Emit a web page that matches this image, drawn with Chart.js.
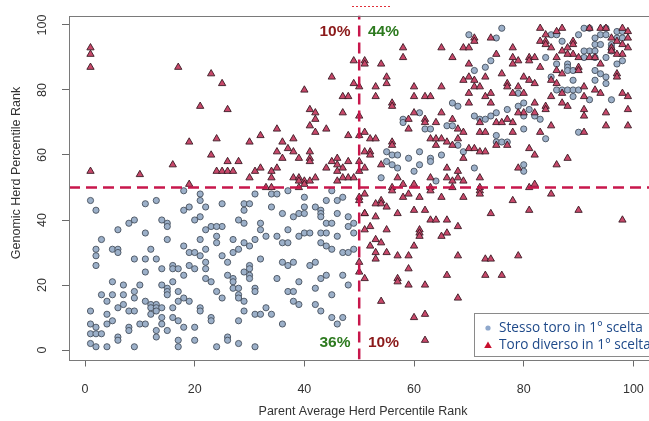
<!DOCTYPE html>
<html lang="it">
<head>
  <meta charset="UTF-8" />
  <title>Genomic vs Parent Average Herd Percentile Rank</title>
  <script src="https://cdn.jsdelivr.net/npm/chart.js"></script>
  <style>
    html, body {
      margin: 0;
      padding: 0;
      background: #fff;
      overflow: hidden;
    }
    #grafico {
      display: block;
    }
  </style>
</head>
<body>
  <canvas id="grafico" width="660" height="421"></canvas>

  <script>
    // [parent average rank, genomic rank]
    const stessoToro = [
      [18,49],[21,48],[31,48],[34,48],[35,48],[37,49],[40,47],[45,49],[46,46],[47,47],[44,46],
      [76,99],[70,97],[75,96],[74,89],[73,87],[71,86],[67,76],[68,75],[61,73],[58,71],[58,70],
      [71,72],[72,71],[73,71],[74,72],[75,73],[77,74],[66,69],[67,69],[62,68],[63,68],[75,66],
      [68,63],[75,64],[76,64],[77,64],[69,61],[55,61],[56,60],[57,60],[55,58],[56,57],[57,56],
      [59,59],[61,61],[63,59],[63,58],[61,57],[60,55],[65,60],[71,56],[54,53],[64,52],
      [91,99],[92,99],[95,99],[85,97],[86,97],[97,98],[98,98],[87,95],[90,97],[94,97],[93,96],
      [95,97],[97,96],[98,96],[93,94],[94,94],[96,94],[96,93],[96,92],[92,92],[91,92],[93,92],
      [91,90],[93,90],[95,90],[84,90],[98,89],[97,88],[88,88],[88,87],[86,88],[88,86],[89,86],
      [93,86],[94,85],[95,84],[85,84],[89,83],[93,83],[95,82],[86,80],[87,80],[88,80],[89,80],
      [90,80],[79,79],[89,78],[92,77],[96,77],[79,75],[80,76],[81,74],[82,72],[83,71],[80,72],
      [80,68],[84,65],[90,67],[80,57],[80,55],
      [25,45],[29,45],[30,45],[29,43],[28,40],[29,39],[34,44],[36,42],[38,41],[39,42],[40,44],
      [40,42],[42,44],[43,43],[43,42],[43,41],[44,39],[45,39],[46,42],[48,41],[49,39],[48,38],
      [25,38],[32,39],[32,37],[33,35],[35,35],[36,33],[37,33],[37,37],[39,35],[40,36],[41,36],
      [43,36],[44,36],[46,35],[43,33],[44,32],[45,31],[47,30],[48,30],[49,31],[49,36],
      [25,29],[27,34],[27,30],[28,31],[29,33],[30,32],[31,34],[32,28],[26,27],[36,27],[37,26],
      [38,27],[41,26],[42,27],[29,24],[30,26],[30,25],[30,23],[30,22],[26,23],[27,22],[27,21],
      [27,19],[28,19],[28,17],[28,16],[25,16],[31,19],[31,18],[35,22],[39,21],[43,22],[44,23],
      [42,19],[47,23],[48,20],[45,17],[37,18],[38,18],[38,15],[39,14],[29,15],[29,12],[31,11],
      [32,11],[33,13],[34,11],[28,9],[42,14],[43,12],[45,10],[46,8],[47,10],[36,8],
      [26,4],[26,3],[28,2],[31,1],
      [1,46],[2,43],[11,45],[13,46],[21,46],[18,43],[19,44],[22,44],[20,40],[21,41],
      [8,39],[9,40],[14,40],[15,39],[15,38],[6,37],[11,36],[15,34],[3,34],[2,31],[2,29],[2,26],
      [5,31],[6,31],[6,30],[12,31],[9,28],[11,28],[13,28],[11,24],[14,25],[16,26],[16,25],
      [17,25],[18,23],[18,32],[19,30],[20,30],[21,29],[19,26],[20,25],[22,31],[22,27],[22,25],
      [22,22],[23,21],[23,38],[24,38],[24,35],[24,33],[22,37],[21,34],
      [5,21],[7,20],[10,20],[3,17],[5,17],[7,17],[9,18],[9,16],[14,20],[15,19],[15,18],[15,17],
      [17,18],[16,21],[19,15],[18,16],[17,15],[24,18],
      [1,12],[4,15],[4,11],[6,13],[7,14],[8,12],[9,12],[11,15],[12,14],[12,13],[12,11],[13,14],
      [13,13],[14,13],[14,10],[13,12],[16,13],[16,10],[17,9],[21,13],[21,12],[23,10],[23,9],
      [1,8],[1,5],[2,7],[2,5],[3,5],[4,8],[5,9],[6,4],[6,3],[8,7],[8,6],[10,8],[11,8],[13,6],
      [13,4],[14,8],[15,6],[18,7],[20,7],
      [1,2],[2,1],[4,1],[9,1],[17,3],[17,1],[20,3],[24,1]
    ];

    const toroDiverso = [
      [1,93],[1,91],[1,87],[17,87],[23,85],[21,75],[19,64],[24,65],[23,60],[16,57],[1,55],
      [10,54],[24,55],[19,51],
      [49,89],[51,89],[45,84],[49,82],[50,81],[25,82],[40,80],[47,78],[48,78],[26,74],[41,74],
      [42,73],[47,73],[50,72],[42,71],[41,69],[42,67],[44,68],[35,68],[32,66],[30,64],[36,64],
      [38,65],[48,66],[50,66],[37,62],[35,61],[38,61],[36,59],[39,59],[41,61],[41,59],[41,58],
      [26,58],[28,58],[32,56],[46,59],[45,58],[48,58],[50,58],[51,56],[50,55],[46,57],[47,56],
      [44,56],[46,55],[25,55],[26,55],[27,55],[31,55],[34,55],[35,56],[30,53],[34,53],[38,53],
      [39,53],[40,52],[42,53],[39,52],[48,53],[49,53],[47,53],[46,52],[33,50],[34,50],[39,50],
      [40,51],[41,52],
      [71,96],[71,95],[74,96],[69,93],[70,93],[65,93],[58,93],[58,90],[78,93],[78,90],[75,91],
      [67,90],[54,88],[51,88],[78,88],[70,88],[76,85],[73,84],[70,84],[69,83],[71,83],[55,84],
      [55,82],[77,82],[77,81],[53,81],[60,81],[65,81],[71,81],[72,81],[78,79],[70,79],[70,76],
      [53,78],[56,76],[56,75],[60,78],[62,78],[63,78],[73,78],[74,79],[74,76],[60,73],[59,71],
      [59,68],[65,73],[67,71],[64,70],[62,71],[62,70],[68,68],[69,67],[72,70],[72,67],[75,70],
      [76,70],[77,71],[78,70],[73,67],[78,67],[63,65],[64,65],[65,65],[64,63],[66,64],[67,63],
      [68,65],[51,67],[52,65],[53,65],[56,64],[56,63],[70,62],[71,62],[75,63],[77,63],[72,61],
      [73,61],[51,61],[52,61],[52,60],[69,59],[54,57],[66,56],[68,55],[68,53],[63,53],[66,53],
      [57,53],[72,53],[67,52],[69,52],[72,50],[56,50],[58,51],[60,51],[63,50],[67,50],
      [83,99],[92,99],[94,99],[95,99],[87,99],[86,98],[98,99],[99,98],[99,96],[84,97],[83,95],
      [84,95],[89,95],[89,94],[96,96],[97,95],[98,94],[85,93],[84,94],[88,93],[87,92],[96,93],
      [96,92],[98,91],[99,93],[89,91],[90,90],[92,90],[93,90],[88,91],[97,91],[86,90],[81,90],
      [81,89],[79,89],[82,90],[94,88],[83,87],[90,87],[90,86],[86,86],[87,85],[97,85],[97,84],
      [80,84],[81,83],[82,82],[85,83],[86,82],[91,81],[87,79],[93,80],[94,79],[79,81],[80,79],
      [91,78],[85,78],[98,79],[99,78],[82,76],[84,75],[87,76],[88,75],[84,74],[82,73],[80,73],
      [79,73],[91,74],[91,72],[95,73],[99,74],[85,69],[95,69],[99,69],[83,67],[91,67],[81,62],
      [82,60],[88,59],[86,57],[79,56],[81,50],[82,51],
      [85,48],[81,43],[90,43],[98,40],[79,29],
      [56,49],[58,47],[59,48],[61,47],[63,49],[65,47],[69,47],[72,49],[72,48],[78,46],[53,45],
      [54,46],[54,45],[55,44],[57,42],[60,43],[62,43],[74,42],[53,41],[52,38],[55,37],[51,42],
      [63,40],[64,40],[66,40],[68,38],[61,37],[61,36],[61,35],[65,35],[66,36],[53,34],[54,33],
      [52,32],[60,32],[53,30],[53,28],[55,30],[57,29],[59,29],[68,29],[73,28],[74,28],[59,25],
      [57,22],[57,21],[66,23],[73,23],[76,23],[59,20],[62,20],[68,16],[54,15],[60,10],[62,11],
      [62,3],
      [50,47],[50,46],[51,48],[51,42],[51,37],[50,27],[50,24],[51,22]
    ];

    const tickX = [0, 20, 40, 60, 80, 100];
    const tickY = [0, 20, 40, 60, 80, 100];
    const limiti = [-2.92, 102.92];
    const soglia = 50;

    // quadrant shares: [label, x, y, colour, align]
    const quote = [
      ['10%', 48.4, 97.8, '#8b1a1a', 'right'],
      ['44%', 51.6, 97.8, '#2d7a1f', 'left'],
      ['36%', 48.4, 2.2, '#2d7a1f', 'right'],
      ['10%', 51.6, 2.2, '#8b1a1a', 'left']
    ];

    const legenda = ['Stesso toro in 1° scelta', 'Toro diverso in 1° scelta'];
    const titoloX = 'Parent Average Herd Percentile Rank';
    const titoloY = 'Genomic Herd Percentile Rank';

    const COL_CERCHIO = '#9cb0c9';
    const COL_TRIANGOLO = '#c8486a';
    const COL_SOGLIA = '#c8174c';
    const FONT_ASSI = '12.5px "Liberation Sans", Arial, sans-serif';

    const decorazioni = {
      id: 'decorazioni',
      afterDatasetsDraw(chart) {
        const { ctx, chartArea: a, scales } = chart;
        const sx = scales.x, sy = scales.y;
        ctx.save();

        // plot box
        ctx.strokeStyle = '#7a7a7a';
        ctx.lineWidth = 1;
        ctx.strokeRect(Math.round(a.left) + 0.5, Math.round(a.top) + 0.5,
          Math.round(a.right - a.left), Math.round(a.bottom - a.top));

        // vertical y tick labels
        ctx.fillStyle = '#333';
        ctx.font = FONT_ASSI;
        ctx.textAlign = 'center';
        ctx.textBaseline = 'middle';
        tickY.forEach(v => {
          ctx.save();
          ctx.translate(43, sy.getPixelForValue(v));
          ctx.rotate(-Math.PI / 2);
          ctx.fillText(String(v), 0, 0);
          ctx.restore();
        });

        // axis titles
        ctx.fillText(titoloX, 363, 412);
        ctx.save();
        ctx.translate(17, 173);
        ctx.rotate(-Math.PI / 2);
        ctx.fillText(titoloY, 0, 0);
        ctx.restore();

        // quadrant percentages
        ctx.font = 'bold 15.5px "Liberation Sans", Arial, sans-serif';
        quote.forEach(([t, x, y, c, al]) => {
          ctx.fillStyle = c;
          ctx.textAlign = al;
          ctx.fillText(t, sx.getPixelForValue(x), sy.getPixelForValue(y));
        });

        // legend
        const lx = 474.5, ly = 313.5;
        ctx.fillStyle = '#fff';
        ctx.fillRect(lx, ly, 200, 43);
        ctx.strokeStyle = '#8a8a8a';
        ctx.strokeRect(lx, ly, 200, 43);

        ctx.fillStyle = '#8fa8cc';
        ctx.beginPath();
        ctx.arc(488, 328, 2.6, 0, Math.PI * 2);
        ctx.fill();

        ctx.fillStyle = '#c8102e';
        ctx.beginPath();
        ctx.moveTo(488, 341.5);
        ctx.lineTo(491.8, 348);
        ctx.lineTo(484.2, 348);
        ctx.closePath();
        ctx.fill();

        ctx.fillStyle = '#1f4a8a';
        ctx.font = '13.6px "Open Sans", sans-serif';
        ctx.textAlign = 'left';
        ctx.fillText(legenda[0], 499, 328);
        ctx.fillText(legenda[1], 499, 345.5);

        // small dotted mark above the plot
        ctx.strokeStyle = '#e0303a';
        ctx.setLineDash([2, 2]);
        ctx.beginPath();
        ctx.moveTo(352, 6.5);
        ctx.lineTo(392, 6.5);
        ctx.stroke();

        ctx.restore();
      }
    };

    const punti = arr => arr.map(([x, y]) => ({ x, y }));

    new Chart(document.getElementById('grafico'), {
      type: 'scatter',
      data: {
        datasets: [
          {
            type: 'line',
            data: [{ x: limiti[0], y: soglia }, { x: limiti[1], y: soglia }],
            borderColor: COL_SOGLIA,
            borderWidth: 2.5,
            borderDash: [11, 6],
            pointRadius: 0,
            order: 0
          },
          {
            type: 'line',
            data: [{ x: soglia, y: limiti[0] }, { x: soglia, y: limiti[1] }],
            borderColor: COL_SOGLIA,
            borderWidth: 2.5,
            borderDash: [11, 6],
            pointRadius: 0,
            order: 0
          },
          {
            label: legenda[1],
            data: punti(toroDiverso),
            pointStyle: 'triangle',
            pointRadius: 4.2,
            backgroundColor: COL_TRIANGOLO,
            borderColor: '#3a1a24',
            borderWidth: 0.9,
            order: 1
          },
          {
            label: legenda[0],
            data: punti(stessoToro),
            pointStyle: 'circle',
            pointRadius: 3.1,
            backgroundColor: COL_CERCHIO,
            borderColor: '#46505e',
            borderWidth: 0.9,
            order: 2
          }
        ]
      },
      options: {
        responsive: false,
        animation: false,
        devicePixelRatio: 1,
        layout: { padding: { top: 15.5, right: 6.5, left: 0, bottom: 0 } },
        plugins: {
          legend: { display: false },
          tooltip: { enabled: false }
        },
        scales: {
          x: {
            type: 'linear',
            min: limiti[0],
            max: limiti[1],
            afterBuildTicks: s => { s.ticks = tickX.map(v => ({ value: v })); },
            afterFit: s => { s.height = 61.5; },
            border: { display: false },
            grid: { drawOnChartArea: false, drawTicks: true, tickLength: 7, color: '#6a6a6a' },
            ticks: {
              padding: 16,
              maxRotation: 0,
              autoSkip: false,
              color: '#333',
              font: { family: '"Liberation Sans", Arial, sans-serif', size: 12.5 }
            }
          },
          y: {
            type: 'linear',
            min: limiti[0],
            max: limiti[1],
            afterBuildTicks: s => { s.ticks = tickY.map(v => ({ value: v })); },
            afterFit: s => { s.width = 69; },
            border: { display: false },
            grid: { drawOnChartArea: false, drawTicks: true, tickLength: 7, color: '#6a6a6a' },
            ticks: { display: false }
          }
        }
      },
      plugins: [decorazioni]
    });
  </script>
</body>
</html>
